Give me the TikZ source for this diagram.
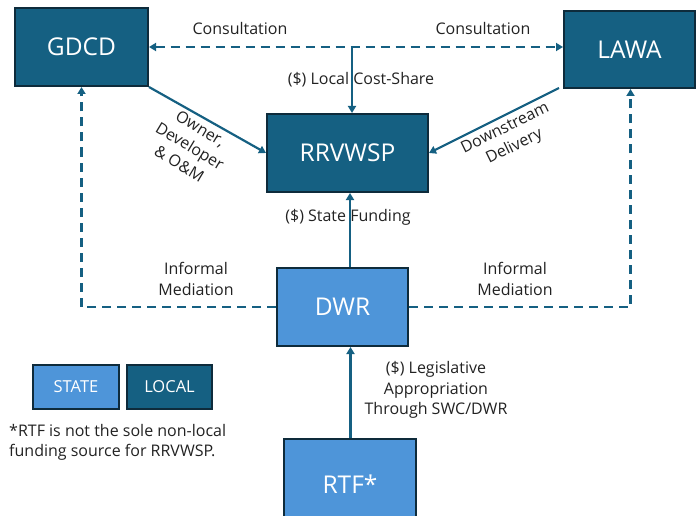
\documentclass[tikz,border=0pt]{standalone}
\usepackage{fontspec}
\setmainfont{Open Sans}
\usetikzlibrary{arrows.meta}

\definecolor{localfill}{HTML}{156082}
\definecolor{statefill}{HTML}{4E95D9}
\definecolor{boxline}{HTML}{0E2B3B}
\definecolor{linkline}{HTML}{156082}
\definecolor{labeltext}{HTML}{222222}

\tikzset{
	localbox/.style={draw=boxline, line width=2pt, fill=localfill, text=white, font=\fontsize{24.5}{28}\selectfont, inner sep=0pt},
	statebox/.style={draw=boxline, line width=2pt, fill=statefill, text=white, font=\fontsize{24.5}{28}\selectfont, inner sep=0pt},
	link/.style={draw=linkline, line width=2.2pt, -{Triangle[length=7pt,width=8pt]}},
	informal/.style={link, dash pattern=on 9pt off 6pt},
	lbl/.style={text=labeltext, font=\fontsize{16}{20.5}\selectfont, align=center, inner sep=0pt}
}

\begin{document}
\begin{tikzpicture}[x=1pt, y=-1pt]
	\useasboundingbox (0,0) rectangle (696,516);
	% agencies
	\node[localbox, minimum width=133pt, minimum height=78pt] (gdcd) at (81.5,47) {GDCD};
	\node[localbox, minimum width=131pt, minimum height=77pt] (lawa) at (629.5,49.5) {LAWA};
	\node[localbox, minimum width=161pt, minimum height=78pt] (rrvwsp) at (347.5,153) {RRVWSP};
	\node[statebox, minimum width=131pt, minimum height=78pt] (dwr) at (342.5,307) {DWR};
	\node[statebox, minimum width=132pt, minimum height=90pt] (rtf) at (350,484) {RTF*};
	% legend
	\node[statebox, minimum width=86pt, minimum height=44pt, font=\fontsize{16.5}{18}\selectfont] (state) at (76,387) {STATE};
	\node[localbox, minimum width=85pt, minimum height=44pt, font=\fontsize{16.5}{18}\selectfont] (local) at (169.5,387) {LOCAL};
	\node[lbl, anchor=north west, align=left] (note) at (9,424) {*RTF is not the sole non-local\\funding source for RRVWSP.};

	% consultation between GDCD and LAWA, cost share down to RRVWSP
	\coordinate (split) at (352,47);
	\draw[informal, {Triangle[length=7pt,width=8pt]}-{Triangle[length=7pt,width=8pt]}] (gdcd.east) -- (gdcd.east -| lawa.west);
	\draw[link] (split) -- (split |- rrvwsp.north);
	\node[lbl] (consl) at (240,29) {Consultation};
	\node[lbl] (consr) at (483,29) {Consultation};
	\node[lbl] (costshare) at (361,80) {(\$) Local Cost-Share};

	% project links
	\draw[link] (gdcd.south east) -- (rrvwsp.west);
	\draw[link] ([shift={(-4pt,1pt)}]lawa.south west) -- (rrvwsp.east);
	\node[lbl, rotate=-31] (owner) at (190,146) {Owner,\\Developer\\\& O\&M};
	\node[lbl, rotate=26] (down) at (510,138) {Downstream\\Delivery};

	% state funding
	\draw[link] ([xshift=7.5pt]dwr.north) -- ([xshift=7.5pt]dwr.north |- rrvwsp.south);
	\draw[link] ([xshift=0.5pt]rtf.north) -- ([xshift=0.5pt]rtf.north |- dwr.south);
	\node[lbl] (statefund) at (348,217) {(\$) State Funding};
	\node[lbl] (approp) at (436,390) {(\$) Legislative\\Appropriation\\Through SWC/DWR};

	% informal mediation
	\draw[informal] (dwr.west) -| (gdcd.south);
	\draw[informal] (dwr.east) -| ([xshift=1pt]lawa.south);
	\node[lbl] (medl) at (196,279) {Informal\\Mediation};
	\node[lbl] (medr) at (515,279) {Informal\\Mediation};
\end{tikzpicture}
\end{document}
